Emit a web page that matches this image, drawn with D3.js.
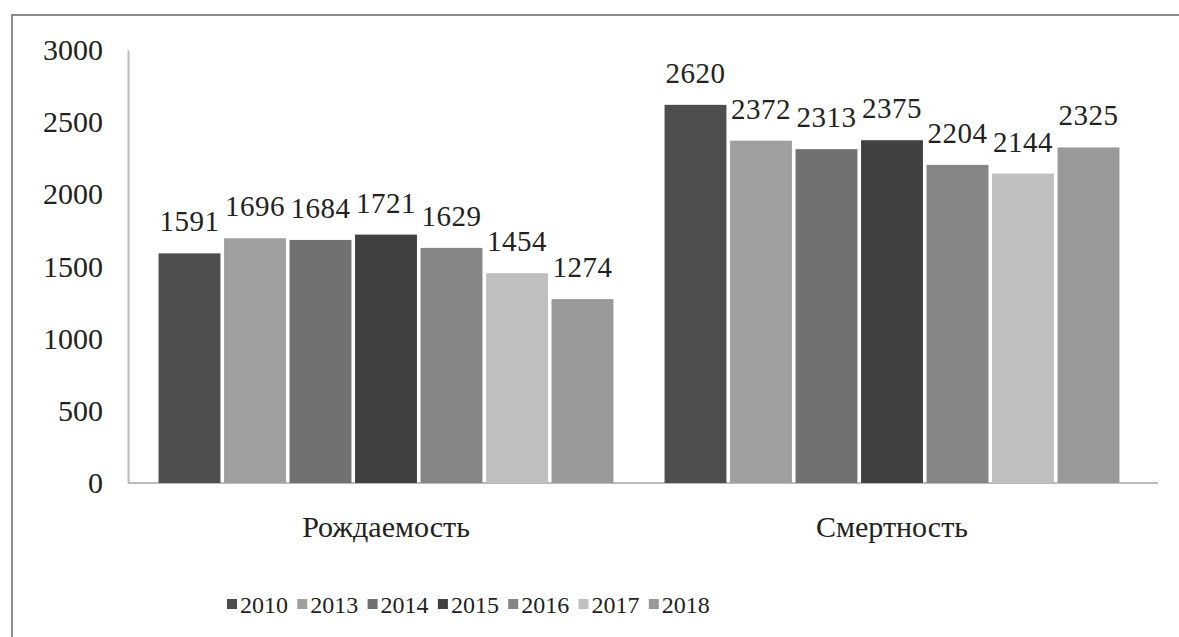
<!DOCTYPE html>
<html>
<head>
<meta charset="utf-8">
<script src="https://cdn.jsdelivr.net/npm/d3@7"></script>
<style>
  body { margin: 0; background: #fff; }
  svg text { font-family: "Liberation Serif", "Times New Roman", serif; fill: #222; }
</style>
</head>
<body>
<svg id="chart" width="1179" height="637"></svg>
<script>
const categories = ['Рождаемость', 'Смертность'];
const years = ['2010', '2013', '2014', '2015', '2016', '2017', '2018'];
const births = [1591, 1696, 1684, 1721, 1629, 1454, 1274];
const deaths = [2620, 2372, 2313, 2375, 2204, 2144, 2325];
const yTicks = [0, 500, 1000, 1500, 2000, 2500, 3000];
const yearColors = ['#4e4e4e', '#a0a0a0', '#717171', '#404040', '#858585', '#bfbfbf', '#999999'];

const seriesByCategory = [births, deaths];
const serif = '"Liberation Serif", "Times New Roman", serif';

const svg = d3.select('#chart');

// outer frame
svg.append('rect')
    .attr('x', 12).attr('y', 15)
    .attr('width', 1185).attr('height', 640)
    .attr('fill', 'none')
    .attr('stroke', '#8c8c8c')
    .attr('stroke-width', 2);

const x0 = d3.scaleBand().domain(categories).range([133, 1145]);
const x1 = d3.scaleBand().domain(years).range([0, x0.bandwidth()])
    .paddingInner(0.055).paddingOuter(0.39);
const y = d3.scaleLinear().domain([0, 3000]).range([483, 50]);
const color = d3.scaleOrdinal().domain(years).range(yearColors);

// y axis
const yAxis = svg.append('g')
    .attr('transform', 'translate(128,0)')
    .call(d3.axisLeft(y).tickValues(yTicks).tickFormat(d3.format('d')).tickSize(0).tickPadding(25));
yAxis.select('.domain').attr('stroke', '#bbb').attr('stroke-width', 2);
yAxis.selectAll('text')
    .style('font-family', serif)
    .style('font-size', '30px')
    .attr('fill', '#222');

// x axis
const xAxis = svg.append('g')
    .attr('transform', `translate(0,${y(0)})`)
    .call(d3.axisBottom(x0).tickSize(0).tickPadding(33));
xAxis.select('.domain').attr('d', 'M128,0H1158').attr('stroke', '#bbb').attr('stroke-width', 2);
xAxis.selectAll('text')
    .style('font-family', serif)
    .style('font-size', '30px')
    .attr('fill', '#222');

// bars
const groups = svg.selectAll('.grp')
    .data(categories)
    .enter().append('g')
    .attr('class', 'grp')
    .attr('transform', d => `translate(${x0(d)},0)`);

const rows = (c, i) => years.map((yr, j) => ({ year: yr, value: seriesByCategory[i][j] }));

groups.selectAll('rect')
    .data(rows)
    .enter().append('rect')
    .attr('x', d => x1(d.year))
    .attr('y', d => y(d.value))
    .attr('width', x1.bandwidth())
    .attr('height', d => y(0) - y(d.value))
    .attr('fill', d => color(d.year));

groups.selectAll('.lbl')
    .data(rows)
    .enter().append('text')
    .attr('class', 'lbl')
    .attr('x', d => x1(d.year) + x1.bandwidth() / 2)
    .attr('y', d => y(d.value) - 22)
    .attr('text-anchor', 'middle')
    .style('font-family', serif)
    .style('font-size', '29px')
    .style('letter-spacing', '0.5px')
    .text(d => d.value);

// legend
const legend = svg.append('g').attr('transform', 'translate(227,602)');
const item = legend.selectAll('g')
    .data(years)
    .enter().append('g')
    .attr('transform', (d, i) => `translate(${i * 70.3},0)`);
item.append('rect')
    .attr('x', 0).attr('y', -3)
    .attr('width', 10).attr('height', 10)
    .attr('fill', d => color(d));
item.append('text')
    .attr('x', 13).attr('y', 11)
    .style('font-family', serif)
    .style('font-size', '24px')
    .text(d => d);
</script>
</body>
</html>
